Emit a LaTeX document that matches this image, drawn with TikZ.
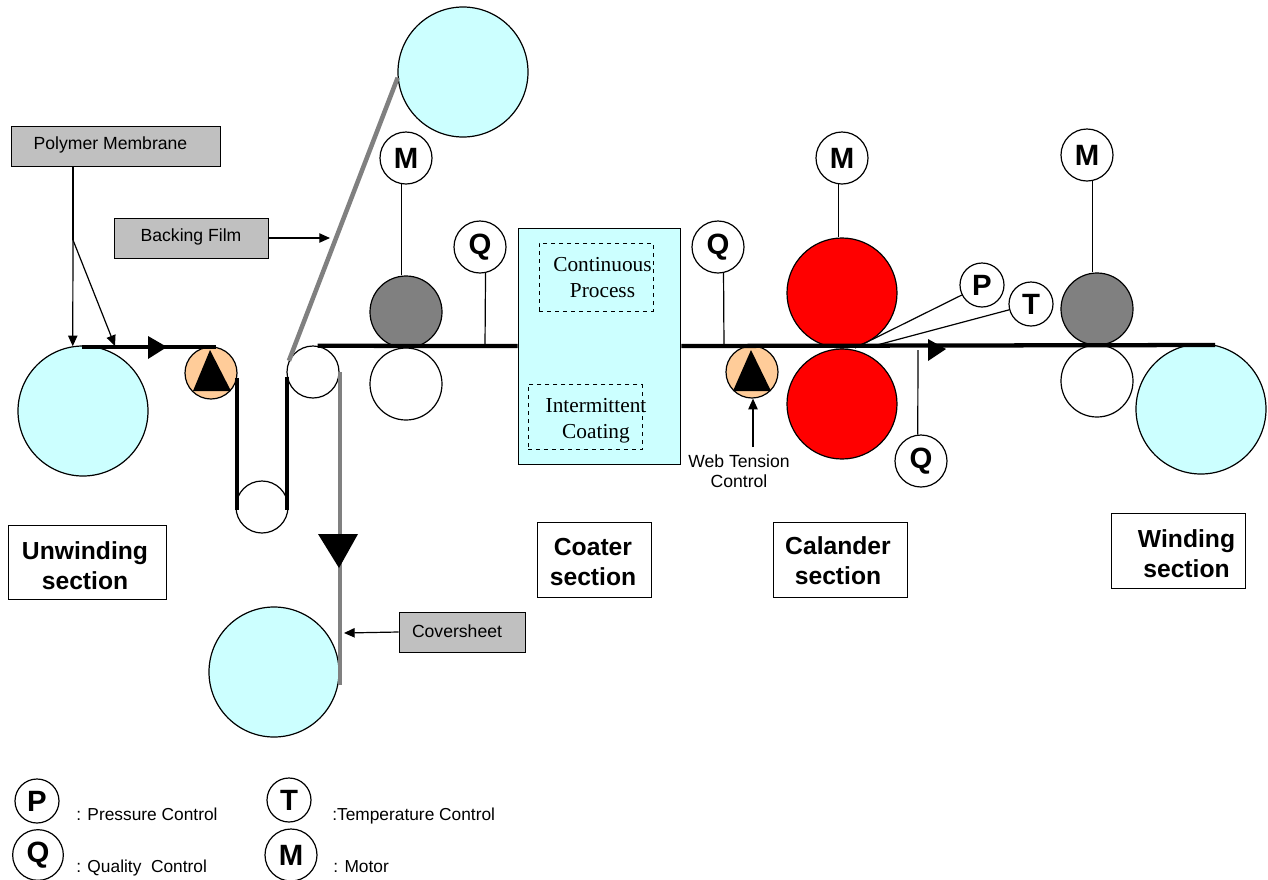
\documentclass[tikz,border=0pt]{standalone}
\usepackage{fontspec}
\setmainfont{Liberation Sans}
\newfontfamily\serifface{Liberation Serif}
\usetikzlibrary{arrows.meta}
\definecolor{rollcyan}{HTML}{CCFFFF}
\definecolor{rollorange}{HTML}{FFCC99}
\definecolor{boxgray}{HTML}{C0C0C0}
\definecolor{rollgray}{HTML}{808080}
\tikzset{
  roller/.style={circle,draw,line width=0.9pt,inner sep=0pt,minimum size=#1},
  ctrl/.style={circle,draw,fill=white,line width=0.9pt,inner sep=0pt,minimum size=#1,font=\fontsize{22}{22}\selectfont\bfseries},
  tagbox/.style={draw,fill=boxgray,line width=0.7pt,inner sep=0pt},
  tagtext/.style={inner sep=0pt,font=\fontsize{13.2}{15}\selectfont},
  sectionbox/.style={draw,line width=0.6pt,inner sep=0pt},
  sectiontext/.style={inner sep=0pt,align=center,font=\fontsize{18.5}{22.5}\selectfont\bfseries},
  stagebox/.style={draw,dashed,line width=0.7pt,inner sep=0pt},
  stagetext/.style={inner sep=0pt,align=center,font=\fontsize{16}{19.5}\selectfont\serifface},
  legendtext/.style={anchor=base west,inner sep=0pt,font=\fontsize{13}{15}\selectfont},
  web/.style={line width=3.2pt},
  film/.style={line width=3.4pt,draw=rollgray},
  lead/.style={line width=0.9pt}
}
\begin{document}
\begin{tikzpicture}[x=0.75pt,y=-0.75pt,>={Triangle[length=8pt,width=7pt]}]
	\useasboundingbox (0,0) rectangle (1268,879);
	\clip (0,0) rectangle (1268,879);
	\node[roller=97.5pt,fill=rollcyan] (unwind) at (83,411) {};
	\node[roller=97.5pt,fill=rollcyan] (backing) at (463,72) {};
	\node[roller=97.5pt,fill=rollcyan] (cover) at (274,672) {};
	\node[roller=97.5pt,fill=rollcyan] (rewind) at (1201,409) {};
	\node[roller=82.5pt,fill=red] (calup) at (842,293) {};
	\node[roller=82.5pt,fill=red] (callow) at (842,404) {};
	\node[roller=54pt,fill=rollgray] (driveone) at (406,312) {};
	\node[roller=54pt,fill=white] (backone) at (406,384) {};
	\node[roller=54pt,fill=rollgray] (drivetwo) at (1097,309) {};
	\node[roller=54pt,fill=white] (backtwo) at (1097,381) {};
	\node[roller=39pt,fill=rollorange] (tensone) at (211,373) {};
	\node[roller=39pt,fill=rollorange] (tenstwo) at (752,372) {};
	\node[roller=39pt,fill=white] (guide) at (313,372) {};
	\node[roller=39pt,fill=white] (lowroll) at (262,507) {};
	\node[draw,fill=rollcyan,line width=0.7pt,inner sep=0pt,minimum width=122pt,minimum height=177pt] (coater) at (599.5,346) {};
	\node[stagebox,minimum width=85.5pt,minimum height=51pt] (contbox) at (596,277) {};
	\node[stagetext] (contproc) at (602.5,278) {Continuous\\Process};
	\node[stagebox,minimum width=85.5pt,minimum height=49pt] (intbox) at (585,417) {};
	\node[stagetext] (intcoat) at (596,421) {Intermittent\\Coating};
	\node[ctrl=39pt] (qin) at (480,247) {Q};
	\node[ctrl=39pt] (qout) at (718,247) {Q};
	\node[ctrl=39pt] (qcal) at (921,461) {Q};
	\node[ctrl=39pt] (mone) at (406,158) {M};
	\node[ctrl=39pt] (mtwo) at (842,158) {M};
	\node[ctrl=39pt] (mthree) at (1087,155) {M};
	\node[ctrl=33pt] (pcal) at (982,285) {P};
	\node[ctrl=33pt] (tcal) at (1031,304) {T};
	\node[tagbox,minimum width=156.75pt,minimum height=30pt] (polymer) at (115.5,146) {};
	\node[tagtext] (polytext) at (110.5,145) {Polymer Membrane};
	\node[tagbox,minimum width=115.5pt,minimum height=30pt] (backfilm) at (191,238) {};
	\node[tagtext] (backtext) at (191,237) {Backing Film};
	\node[tagbox,minimum width=94.5pt,minimum height=30pt] (coverfilm) at (462,632) {};
	\node[tagtext] (covertext) at (457,631) {Coversheet};
	\node[inner sep=0pt,align=center,font=\fontsize{13.2}{15}\selectfont] (webtens) at (739,471) {Web Tension\\Control};
	\node[sectionbox,minimum width=118.5pt,minimum height=56pt] (secunw) at (87,562.5) {};
	\node[sectiontext] at (85,565.5) (unwtext) {Unwinding\\section};
	\node[sectionbox,minimum width=86pt,minimum height=56pt] (seccoat) at (594.5,560) {};
	\node[sectiontext] at (593,561.5) (coattext) {Coater\\section};
	\node[sectionbox,minimum width=101pt,minimum height=56pt] (seccal) at (840.5,560) {};
	\node[sectiontext] at (838,561) (caltext) {Calander\\section};
	\node[sectionbox,minimum width=101pt,minimum height=56pt] (secwind) at (1178.5,551) {};
	\node[sectiontext] at (1186.5,554) (windtext) {Winding\\section};
	\coordinate (polysplit) at (73,240);
	\coordinate (polytop) at (73,166);
	\coordinate (polyweb) at (115,346);
	\coordinate (backhit) at (330,238);
	\coordinate (coverhit) at (344,633);
	\coordinate (webstart) at (82,347);
	\coordinate (webstop) at (216,347);
	\coordinate (webend) at (1215,345);
	\coordinate (coverend) at (340,685);
	\coordinate (qinfoot) at (485,347);
	\coordinate (qoutfoot) at (724,347);
	\coordinate (qcaltop) at (918,350);
	\coordinate (pnip) at (855,348);
	\coordinate (tnip) at (877,345);
	\coordinate (tenstail) at (753,447);
	\draw[web] (webstart) -- (webstop);
	\draw[web] (tensone.-10) -- (tensone.-10 |- lowroll.-173);
	\draw[web] (guide.190) -- (guide.190 |- lowroll.-7);
	\draw[web] (guide.80) -- (coater.west);
	\draw[web] (coater.east) -- (webend);
	\draw[film] (guide.155) -- (backing.185);
	\draw[film] (coverend |- guide.east) -- (coverend);
	\fill (148,336) -- (167,347) -- (148,359) -- cycle;
	\fill (928,339) -- (946,349) -- (928,361) -- cycle;
	\fill (318,534) -- (358,534) -- (339,568) -- cycle;
	\fill (210,350) -- (231,391) -- (193,391) -- cycle;
	\fill (751,350) -- (771,391) -- (733,391) -- cycle;
	\draw[lead] (polytop) -- (polysplit);
	\draw[lead,->] (polysplit) -- (unwind.99);
	\draw[lead,->] (polysplit) -- (polyweb);
	\draw[lead,->] (backfilm.east) -- (backhit);
	\draw[lead,->] (coverfilm.west) -- (coverhit);
	\draw[lead,->] (tenstail) -- (tenstail |- tenstwo.south);
	\draw[lead] (qin.-78) -- (qinfoot);
	\draw[lead] (qout.-78) -- (qoutfoot);
	\draw[lead] (qcaltop) -- (qcal.97);
	\draw[lead] (mone.-99) -- (driveone.north -| mone.-99);
	\draw[lead] (mtwo.-97) -- (calup.north -| mtwo.-97);
	\draw[lead] (mthree.-78) -- (drivetwo.north -| mthree.-78);
	\draw[lead] (pcal) -- (pnip);
	\draw[lead] (tcal) -- (tnip);
	\node[ctrl=33pt] (legp) at (37,801) {P};
	\node[ctrl=33pt] (legt) at (289,800) {T};
	\node[ctrl=38pt] (legq) at (38,855) {Q};
	\node[ctrl=39pt] (legm) at (291,855) {M};
	\node[legendtext] (legptext) at (76,820) {: Pressure Control};
	\node[legendtext] (legttext) at (332,820) {:Temperature Control};
	\node[legendtext] (legqtext) at (76,872) {: Quality\ \ Control};
	\node[legendtext] (legmtext) at (333,872) {: Motor};
\end{tikzpicture}
\end{document}
